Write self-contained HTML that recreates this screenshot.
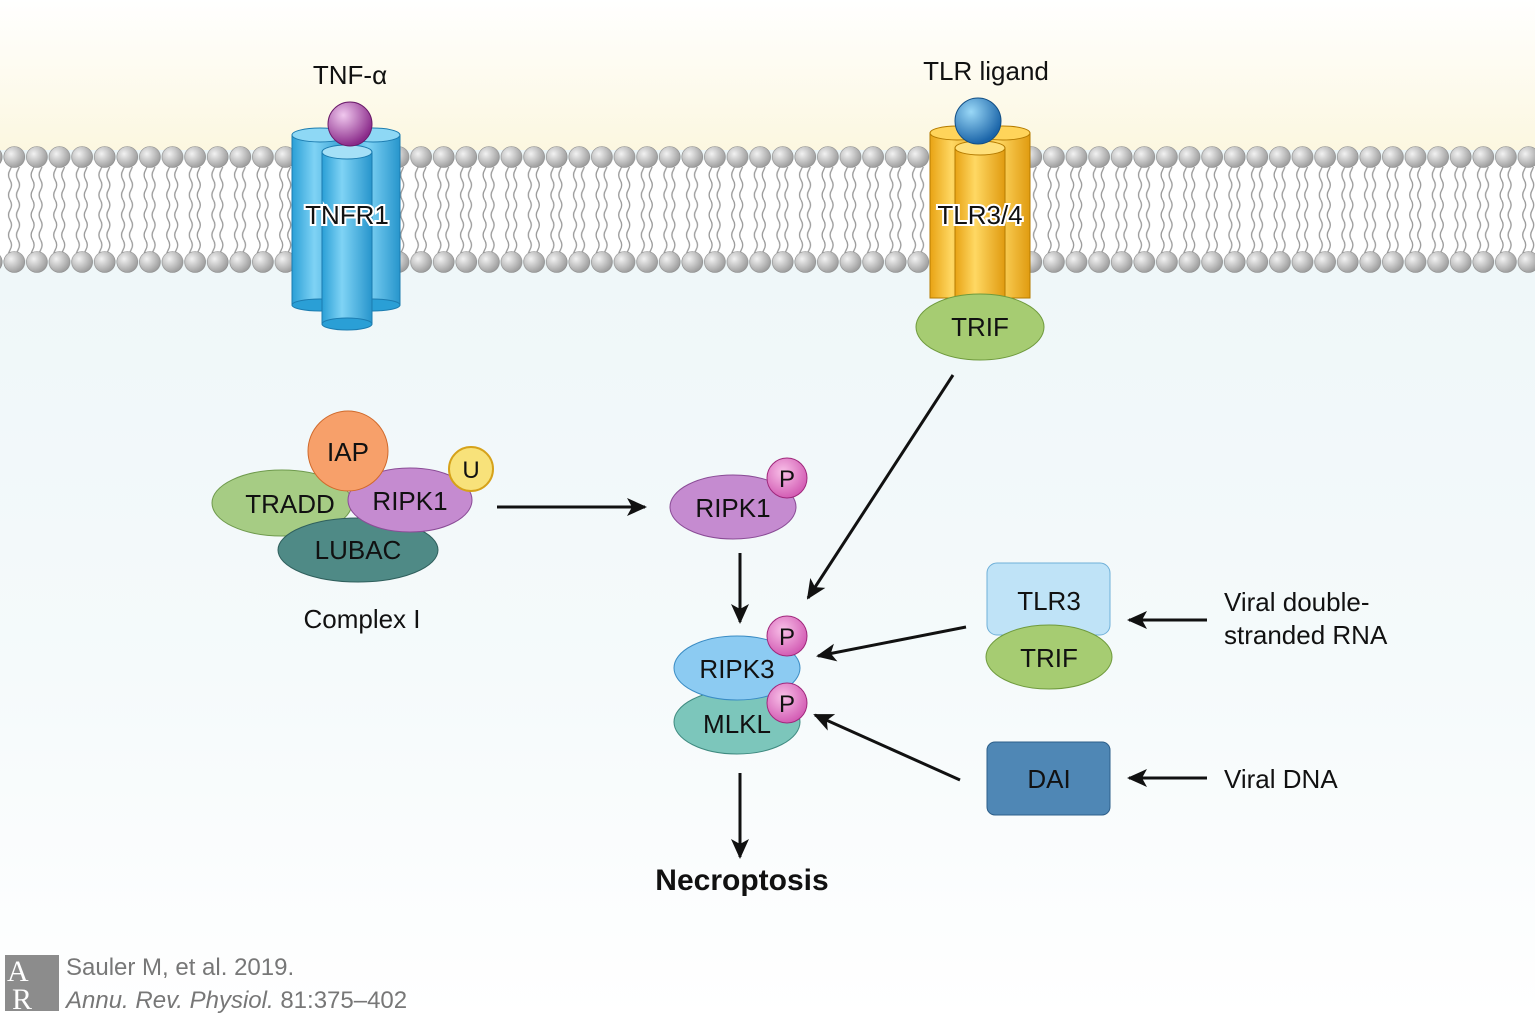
<!DOCTYPE html>
<html><head><meta charset="utf-8"><style>
html,body{margin:0;padding:0;background:#fff;}
svg{display:block;font-family:"Liberation Sans",sans-serif;}
</style></head><body>
<svg width="1535" height="1017" viewBox="0 0 1535 1017" xmlns="http://www.w3.org/2000/svg">
<defs>
<linearGradient id="bgtop" x1="0" y1="0" x2="0" y2="1">
<stop offset="0" stop-color="#ffffff"/><stop offset="1" stop-color="#fcf7e0"/></linearGradient>
<linearGradient id="bgbot" x1="0" y1="0" x2="0" y2="1">
<stop offset="0" stop-color="#edf6f8"/><stop offset="0.6" stop-color="#f5fafb"/><stop offset="1" stop-color="#ffffff"/></linearGradient>
<radialGradient id="head" cx="0.35" cy="0.35" r="0.7"><stop offset="0" stop-color="#f2f2f2"/><stop offset="1" stop-color="#9a9a9a"/></radialGradient>
<pattern id="heads1" x="3" y="145" width="22.6" height="24" patternUnits="userSpaceOnUse">
<circle cx="11.3" cy="12" r="10.5" fill="url(#head)" stroke="#888" stroke-width="0.6"/></pattern>
<pattern id="heads2" x="3" y="250" width="22.6" height="24" patternUnits="userSpaceOnUse">
<circle cx="11.3" cy="12" r="10.5" fill="url(#head)" stroke="#888" stroke-width="0.6"/></pattern>
<pattern id="tails" x="3" y="0" width="22.6" height="40" patternUnits="userSpaceOnUse">
<path d="M7 0 q3 5 0 10 q-3 5 0 10 q3 5 0 10 q-3 5 0 10 M15 0 q3 5 0 10 q-3 5 0 10 q3 5 0 10 q-3 5 0 10" fill="none" stroke="#999" stroke-width="1.3"/></pattern>
<linearGradient id="cylB" x1="0" x2="1"><stop offset="0" stop-color="#2a9fd6"/><stop offset="0.4" stop-color="#7fd3f5"/><stop offset="1" stop-color="#2795cc"/></linearGradient>
<linearGradient id="cylY" x1="0" x2="1"><stop offset="0" stop-color="#e8a314"/><stop offset="0.4" stop-color="#ffd863"/><stop offset="1" stop-color="#e09b10"/></linearGradient>
<radialGradient id="purp" cx="0.35" cy="0.3" r="0.7"><stop offset="0" stop-color="#f0c8ee"/><stop offset="1" stop-color="#8a2a8a"/></radialGradient>
<radialGradient id="blueb" cx="0.35" cy="0.3" r="0.7"><stop offset="0" stop-color="#9ad8f7"/><stop offset="1" stop-color="#1a64a8"/></radialGradient>
<radialGradient id="pball" cx="0.4" cy="0.35" r="0.7"><stop offset="0" stop-color="#f8c0e8"/><stop offset="1" stop-color="#d055b0"/></radialGradient>
<marker id="ah" markerWidth="20" markerHeight="18" refX="18" refY="9" orient="auto" markerUnits="userSpaceOnUse" viewBox="0 0 20 18">
<path d="M0 0 L20 9 L0 18 L5 9 Z" fill="#111"/></marker>
</defs>
<rect x="0" y="0" width="1535" height="150" fill="url(#bgtop)"/>
<rect x="0" y="150" width="1535" height="867" fill="url(#bgbot)"/>
<rect x="0" y="160" width="1535" height="100" fill="#ffffff"/>
<rect x="0" y="167" width="1535" height="86" fill="url(#tails)"/>
<rect x="0" y="145" width="1535" height="24" fill="url(#heads1)"/>
<rect x="0" y="250" width="1535" height="24" fill="url(#heads2)"/>

<!-- TNFR1 -->
<g stroke="#1c7cb0" stroke-width="1">
<rect x="292" y="135" width="56" height="170" fill="url(#cylB)"/><ellipse cx="320" cy="305" rx="28" ry="6" fill="#2a9fd6"/><ellipse cx="320" cy="135" rx="28" ry="7" fill="#8ed8f5"/>
<rect x="346" y="135" width="54" height="170" fill="url(#cylB)"/><ellipse cx="373" cy="305" rx="27" ry="6" fill="#2a9fd6"/><ellipse cx="373" cy="135" rx="27" ry="7" fill="#8ed8f5"/>
<rect x="322" y="152" width="50" height="172" fill="url(#cylB)"/><ellipse cx="347" cy="324" rx="25" ry="6" fill="#2a9fd6"/><ellipse cx="347" cy="152" rx="25" ry="7" fill="#a5e0f7"/>
</g>
<circle cx="350" cy="124" r="22" fill="url(#purp)" stroke="#6a1a6a"/>
<text x="350" y="84" font-size="26" text-anchor="middle" fill="#111">TNF-α</text>
<text x="347" y="224" font-size="26" text-anchor="middle" fill="#111" stroke="#fff" stroke-width="4" paint-order="stroke">TNFR1</text>

<!-- TLR3/4 -->
<g stroke="#b57b00" stroke-width="1">
<rect x="930" y="133" width="54" height="165" fill="url(#cylY)"/><ellipse cx="957" cy="133" rx="27" ry="7" fill="#ffd45a"/>
<rect x="976" y="133" width="54" height="165" fill="url(#cylY)"/><ellipse cx="1003" cy="133" rx="27" ry="7" fill="#ffd45a"/>
<rect x="955" y="148" width="50" height="160" fill="url(#cylY)"/><ellipse cx="980" cy="148" rx="25" ry="7" fill="#ffe07a"/>
</g>
<circle cx="978" cy="121" r="23" fill="url(#blueb)" stroke="#134f85"/>
<text x="986" y="80" font-size="26" text-anchor="middle" fill="#111">TLR ligand</text>
<text x="980" y="224" font-size="26" text-anchor="middle" fill="#111" stroke="#fff" stroke-width="4" paint-order="stroke">TLR3/4</text>
<ellipse cx="980" cy="327" rx="64" ry="33" fill="#a6cc72" stroke="#6f9a3d"/>
<text x="980" y="336" font-size="26" text-anchor="middle" fill="#111">TRIF</text>

<!-- Complex I -->
<ellipse cx="282" cy="503" rx="70" ry="33" fill="#a6cc84" stroke="#6f9a4d"/>
<ellipse cx="358" cy="550" rx="80" ry="32" fill="#4f8a86" stroke="#2f5f5c"/>
<ellipse cx="410" cy="500" rx="62" ry="32" fill="#c58bd0" stroke="#8a4c96"/>
<circle cx="348" cy="451" r="40" fill="#f7a06a" stroke="#d06a2c"/>
<circle cx="471" cy="469" r="22" fill="#f8e27a" stroke="#d6a21a" stroke-width="2"/>
<text x="348" y="461" font-size="26" text-anchor="middle" fill="#111">IAP</text>
<text x="471" y="478" font-size="24" text-anchor="middle" fill="#111">U</text>
<text x="290" y="513" font-size="26" text-anchor="middle" fill="#111">TRADD</text>
<text x="410" y="510" font-size="26" text-anchor="middle" fill="#111">RIPK1</text>
<text x="358" y="559" font-size="26" text-anchor="middle" fill="#111">LUBAC</text>
<text x="362" y="628" font-size="26" text-anchor="middle" fill="#111">Complex I</text>

<!-- RIPK1-P -->
<ellipse cx="733" cy="507" rx="63" ry="32" fill="#c58bd0" stroke="#8a4c96"/>
<circle cx="787" cy="478" r="20" fill="url(#pball)" stroke="#a0287c"/>
<text x="733" y="517" font-size="26" text-anchor="middle" fill="#111">RIPK1</text>
<text x="787" y="487" font-size="24" text-anchor="middle" fill="#111">P</text>

<!-- RIPK3 / MLKL -->
<ellipse cx="737" cy="722" rx="63" ry="32" fill="#7cc6bb" stroke="#3f8a80"/>
<ellipse cx="737" cy="668" rx="63" ry="32" fill="#8ccbf2" stroke="#3a8cc4"/>
<circle cx="787" cy="636" r="20" fill="url(#pball)" stroke="#a0287c"/>
<circle cx="787" cy="703" r="20" fill="url(#pball)" stroke="#a0287c"/>
<text x="737" y="678" font-size="26" text-anchor="middle" fill="#111">RIPK3</text>
<text x="737" y="733" font-size="26" text-anchor="middle" fill="#111">MLKL</text>
<text x="787" y="645" font-size="24" text-anchor="middle" fill="#111">P</text>
<text x="787" y="712" font-size="24" text-anchor="middle" fill="#111">P</text>

<text x="742" y="890" font-size="30" font-weight="bold" text-anchor="middle" fill="#111">Necroptosis</text>

<!-- TLR3/TRIF -->
<rect x="987" y="563" width="123" height="72" rx="10" fill="#bfe3f7" stroke="#6fb0d8"/>
<ellipse cx="1049" cy="657" rx="63" ry="32" fill="#a6cc72" stroke="#6f9a3d"/>
<text x="1049" y="610" font-size="26" text-anchor="middle" fill="#111">TLR3</text>
<text x="1049" y="667" font-size="26" text-anchor="middle" fill="#111">TRIF</text>
<rect x="987" y="742" width="123" height="73" rx="8" fill="#4f87b5" stroke="#2d5f8a"/>
<text x="1049" y="788" font-size="26" text-anchor="middle" fill="#111">DAI</text>
<text x="1224" y="611" font-size="26" fill="#111">Viral double-</text>
<text x="1224" y="644" font-size="26" fill="#111">stranded RNA</text>
<text x="1224" y="788" font-size="26" fill="#111">Viral DNA</text>

<!-- arrows -->
<g stroke="#111" stroke-width="3" marker-end="url(#ah)">
<line x1="497" y1="507" x2="645" y2="507"/>
<line x1="740" y1="553" x2="740" y2="622"/>
<line x1="740" y1="773" x2="740" y2="857"/>
<line x1="953" y1="375" x2="808" y2="598"/>
<line x1="966" y1="627" x2="818" y2="656"/>
<line x1="960" y1="780" x2="815" y2="715"/>
<line x1="1207" y1="620" x2="1129" y2="620"/>
<line x1="1207" y1="778" x2="1129" y2="778"/>
</g>

<!-- footer -->
<rect x="5" y="955" width="54" height="56" fill="#8c8c8c"/>
<text x="7" y="981" font-size="30" font-family="Liberation Serif,serif" fill="#fff">A</text>
<text x="12" y="1009" font-size="30" font-family="Liberation Serif,serif" fill="#fff">R</text>
<text x="66" y="975" font-size="24" fill="#777">Sauler M, et al. 2019.</text>
<text x="66" y="1008" font-size="24" fill="#777"><tspan font-style="italic">Annu. Rev. Physiol.</tspan> 81:375–402</text>
</svg>
</body></html>
